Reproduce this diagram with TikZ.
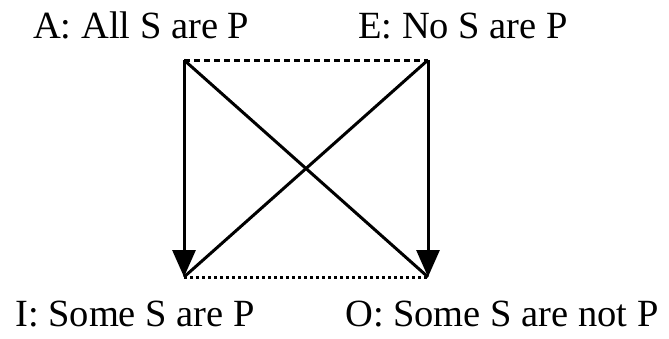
\documentclass[tikz,border=0pt]{standalone}
\usepackage{fontspec}
\setmainfont{Liberation Serif}
\usetikzlibrary{arrows.meta}
\begin{document}
\begin{tikzpicture}[x=1pt,y=-1pt,
  lbl/.style={anchor=base west,inner sep=0pt,font=\fontsize{38.5}{42}\selectfont},
  ln/.style={line width=3pt},
  arr/.style={ln,-{Triangle[length=27pt,width=23pt]}}]
\useasboundingbox (0,0) rectangle (669,338);
\coordinate (tl) at (184,60);
\coordinate (tr) at (428,60);
\coordinate (bl) at (184,277);
\coordinate (br) at (428,277);
\node[lbl] (A) at (33,38) {A: All S are P};
\node[lbl] (E) at (358,38) {E: No S are P};
\node[lbl] (I) at (15,326) {I: Some S are P};
\node[lbl] (O) at (345,326) {O: Some S are not P};
\draw[ln,dash pattern=on 6pt off 4pt] (tl) -- (tr);
\draw[ln,dash pattern=on 3pt off 3pt] (bl) -- (br);
\draw[ln] (tl) -- (br);
\draw[ln] (tr) -- (bl);
\draw[arr] (tl) -- (bl);
\draw[arr] (tr) -- (br);
\end{tikzpicture}
\end{document}
